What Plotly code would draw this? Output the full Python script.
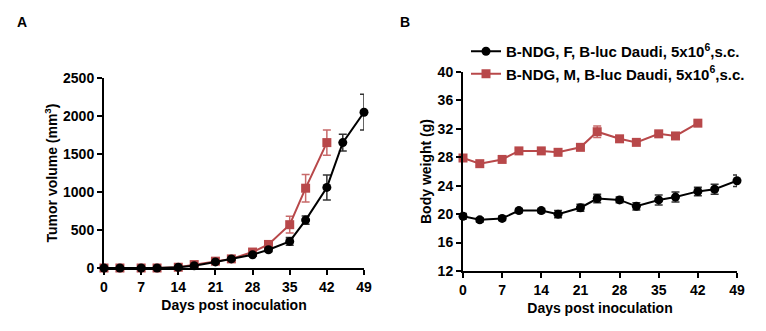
import plotly.graph_objects as go

days_f = [0, 3, 7, 10, 14, 17, 21, 24, 28, 31, 35, 38, 42, 45, 49]
days_m = [0, 3, 7, 10, 14, 17, 21, 24, 28, 31, 35, 38, 42]

tv_f = [0, 0, 0, 0, 10, 30, 80, 120, 175, 240, 350, 630, 1060, 1650, 2050]
tv_f_err = [0, 0, 0, 0, 5, 8, 12, 15, 20, 25, 50, 55, 165, 110, 235]
tv_m = [0, 0, 0, 0, 10, 45, 90, 120, 210, 310, 570, 1050, 1650]
tv_m_err = [0, 0, 0, 0, 5, 8, 12, 15, 25, 30, 110, 180, 165]

bw_f = [19.7, 19.2, 19.4, 20.5, 20.5, 20.0, 20.9, 22.2, 22.0, 21.1, 22.0, 22.4, 23.2, 23.5, 24.7]
bw_f_err = [0.4, 0.3, 0.3, 0.3, 0.3, 0.5, 0.5, 0.6, 0.4, 0.5, 0.7, 0.7, 0.6, 0.7, 0.8]
bw_m = [27.9, 27.1, 27.7, 28.9, 28.9, 28.7, 29.4, 31.6, 30.6, 30.1, 31.3, 31.0, 32.8]
bw_m_err = [0.3, 0.3, 0.3, 0.3, 0.3, 0.3, 0.3, 0.8, 0.4, 0.3, 0.3, 0.3, 0.3]

x_ticks = [0, 7, 14, 21, 28, 35, 42, 49]
tv_ticks = [0, 500, 1000, 1500, 2000, 2500]
bw_ticks = [12, 16, 20, 24, 28, 32, 36, 40]

name_f = "B-NDG, F, B-luc Daudi, 5x10<sup>6</sup>,s.c."
name_m = "B-NDG, M, B-luc Daudi, 5x10<sup>6</sup>,s.c."

BLACK = "#000000"
RED = "#B8484A"
FONT = "Liberation Sans, Arial, sans-serif"

fig = go.Figure()

def add(x, y, err, color, ecolor, symbol, name, xa, ya, show):
    fig.add_trace(go.Scatter(
        x=x, y=y, mode="lines+markers", name=name, showlegend=show,
        line=dict(color=color, width=2),
        marker=dict(color=color, size=9, symbol=symbol),
        error_y=dict(type="data", array=err, visible=True, color=ecolor, thickness=1.5, width=4),
        xaxis=xa, yaxis=ya, cliponaxis=False,
    ))

add(days_m, tv_m, tv_m_err, RED, "#C86A6A", "square", name_m, "x", "y", False)
add(days_f, tv_f, tv_f_err, BLACK, "#333333", "circle", name_f, "x", "y", False)
add(days_f, bw_f, bw_f_err, BLACK, "#333333", "circle", name_f, "x2", "y2", True)
add(days_m, bw_m, bw_m_err, RED, "#C86A6A", "square", name_m, "x2", "y2", True)

W, H = 766, 331
def px_x(p): return p / W
def px_y(p): return 1 - p / H

axis_common = dict(
    showgrid=False, zeroline=False, showline=True, linecolor="black", linewidth=2,
    ticks="outside", ticklen=5, tickwidth=2, tickcolor="black",
    tickfont=dict(family=FONT, size=14, color="black", weight="bold"),
    mirror=False, automargin=False,
)
title_font = dict(family=FONT, size=14, color="black", weight="bold")

fig.update_layout(
    width=W, height=H, margin=dict(l=0, r=0, t=0, b=0, autoexpand=False),
    paper_bgcolor="white", plot_bgcolor="white",
    font=dict(family=FONT, color="black"),
    xaxis=dict(domain=[px_x(104), px_x(364)], range=[0, 49], tickvals=x_ticks,
               title=dict(text="Days post inoculation", font=title_font, standoff=6),
               anchor="y", **axis_common),
    yaxis=dict(domain=[px_y(268), px_y(78)], range=[0, 2500], tickvals=tv_ticks,
               title=dict(text="Tumor volume (mm<sup>3</sup>)", font=title_font, standoff=2),
               anchor="x", **axis_common),
    xaxis2=dict(domain=[px_x(463), px_x(737)], range=[0, 49], tickvals=x_ticks,
                title=dict(text="Days post inoculation", font=title_font, standoff=6),
                anchor="y2", **axis_common),
    yaxis2=dict(domain=[px_y(271), px_y(72)], range=[12, 40], tickvals=bw_ticks,
                title=dict(text="Body weight (g)", font=title_font, standoff=3),
                anchor="x2", **axis_common),
    legend=dict(x=px_x(466), y=px_y(35), xanchor="left", yanchor="top",
                bgcolor="rgba(0,0,0,0)", font=dict(family=FONT, size=15, color="black", weight="bold"),
                tracegroupgap=0, itemwidth=30),
    annotations=[
        dict(text="A", x=px_x(15), y=px_y(22), xref="paper", yref="paper", showarrow=False,
             xanchor="left", yanchor="middle", font=dict(family=FONT, size=14, color="black", weight="bold")),
        dict(text="B", x=px_x(398), y=px_y(22), xref="paper", yref="paper", showarrow=False,
             xanchor="left", yanchor="middle", font=dict(family=FONT, size=14, color="black", weight="bold")),
    ],
)

fig.write_html("out.html")
